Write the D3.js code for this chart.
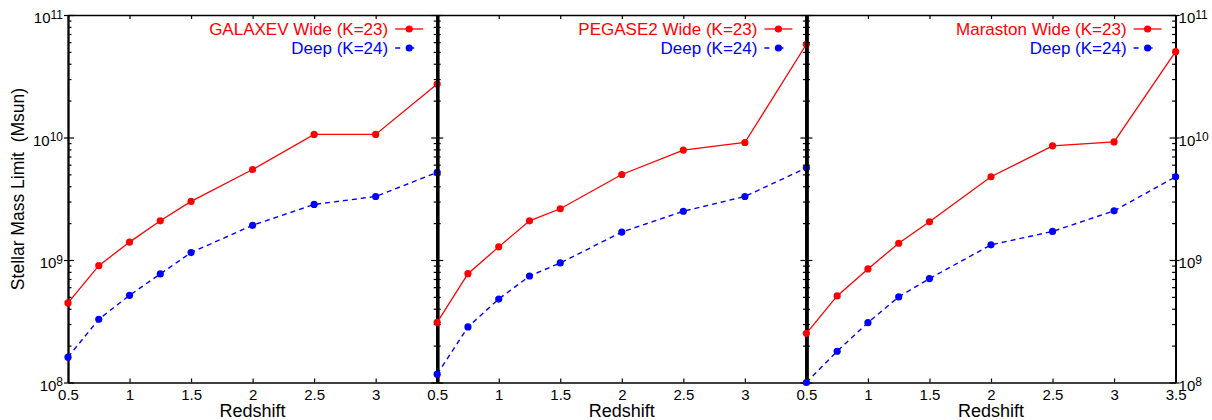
<!DOCTYPE html>
<html>
<head>
<meta charset="utf-8">
<script src="https://cdn.jsdelivr.net/npm/d3@7"></script>
<style>
  html, body { margin: 0; padding: 0; background: #fff; }
  svg { display: block; font-family: "Liberation Sans", Arial, sans-serif; }
</style>
</head>
<body>
<svg id="chart" width="1212" height="420"></svg>
<script>
// ---- data ----
const redshift = [0.5, 0.75, 1, 1.25, 1.5, 2, 2.5, 3, 3.5];
const modelNames = ["GALAXEV", "PEGASE2", "Maraston"];
const galaxevWide  = [4.46e8, 8.99e8, 1.40e9, 2.09e9, 3.01e9, 5.48e9, 1.06e10, 1.06e10, 2.73e10];
const galaxevDeep  = [1.61e8, 3.28e8, 5.15e8, 7.69e8, 1.15e9, 1.92e9, 2.84e9, 3.30e9, 5.19e9];
const pegaseWide   = [3.10e8, 7.73e8, 1.28e9, 2.09e9, 2.62e9, 4.99e9, 7.89e9, 9.10e9, 5.77e10];
const pegaseDeep   = [1.17e8, 2.84e8, 4.80e8, 7.40e8, 9.46e8, 1.69e9, 2.50e9, 3.30e9, 5.65e9];
const marastonWide = [2.52e8, 5.09e8, 8.45e8, 1.37e9, 2.05e9, 4.78e9, 8.55e9, 9.20e9, 5.02e10];
const marastonDeep = [1.00e8, 1.80e8, 3.08e8, 5.00e8, 7.05e8, 1.33e9, 1.71e9, 2.52e9, 4.78e9];
const xTicksInner = [0.5, 1, 1.5, 2, 2.5, 3];
const xTicksLast  = [0.5, 1, 1.5, 2, 2.5, 3, 3.5];
const yMajor = [1e8, 1e9, 1e10, 1e11];
const yExponents = ["8", "9", "10", "11"];
const wideLabel = "Wide (K=23)";
const deepLabel = "Deep (K=24)";
const xTitle = "Redshift";
const yTitle = "Stellar Mass Limit  (Msun)";

const wideSeries = [galaxevWide, pegaseWide, marastonWide];
const deepSeries = [galaxevDeep, pegaseDeep, marastonDeep];

// ---- layout ----
const svg = d3.select("#chart");
const plotTop = 15, plotBottom = 382.5;
const left0 = 68, panelW = 369.2;
const RED = "#ff0000", BLUE = "#0000ff";
const FONT = "Liberation Sans, Arial, sans-serif";

const y = d3.scaleLog().domain([1e8, 1e11]).range([plotBottom, plotTop]);
const yMinor = [];
for (let e = 8; e < 11; e++) for (let m = 2; m <= 9; m++) yMinor.push(m * Math.pow(10, e));

function styleAxis(g, w) {
  g.selectAll("path.domain").attr("stroke", "#000").attr("stroke-width", w);
  g.selectAll(".tick line").attr("stroke", "#000").attr("stroke-width", 1.2);
}

for (let p = 0; p < 3; p++) {
  const L = left0 + p * panelW, R = L + panelW;
  const x = d3.scaleLinear().domain([0.5, 3.5]).range([L, R]);
  const g = svg.append("g");
  const leftW = p === 0 ? 1.6 : 3;
  const rightW = p === 2 ? 1.6 : 3;

  // left axis (inward ticks)
  const gl = g.append("g").attr("transform", `translate(${L},0)`)
    .call(d3.axisLeft(y).tickValues(yMajor).tickSize(-6).tickSizeOuter(0).tickFormat(""));
  styleAxis(gl, leftW);
  const glm = g.append("g").attr("transform", `translate(${L},0)`)
    .call(d3.axisLeft(y).tickValues(yMinor).tickSize(-3.5).tickSizeOuter(0).tickFormat(""));
  styleAxis(glm, leftW);
  // right axis (inward ticks)
  const gr = g.append("g").attr("transform", `translate(${R},0)`)
    .call(d3.axisRight(y).tickValues(yMajor).tickSize(-6).tickSizeOuter(0).tickFormat(""));
  styleAxis(gr, rightW);
  const grm = g.append("g").attr("transform", `translate(${R},0)`)
    .call(d3.axisRight(y).tickValues(yMinor).tickSize(-3.5).tickSizeOuter(0).tickFormat(""));
  styleAxis(grm, rightW);

  // outer axes: short outward ticks too
  if (p === 0) {
    const o = g.append("g").attr("transform", `translate(${L},0)`)
      .call(d3.axisLeft(y).tickValues(yMajor).tickSize(4).tickSizeOuter(0).tickFormat(""));
    styleAxis(o, leftW);
  }
  if (p === 2) {
    const o = g.append("g").attr("transform", `translate(${R},0)`)
      .call(d3.axisRight(y).tickValues(yMajor).tickSize(4).tickSizeOuter(0).tickFormat(""));
    styleAxis(o, rightW);
  }

  const xt = p === 2 ? xTicksLast : xTicksInner;
  // bottom axis
  const gb = g.append("g").attr("transform", `translate(0,${plotBottom})`)
    .call(d3.axisBottom(x).tickValues(xTicksLast).tickSize(-4).tickSizeOuter(0).tickFormat(""));
  styleAxis(gb, 1.6);
  const gbl = g.append("g").attr("transform", `translate(0,${plotBottom})`)
    .call(d3.axisBottom(x).tickValues(xt).tickSize(0).tickPadding(7).tickFormat(d3.format("")));
  gbl.select("path.domain").remove();
  gbl.attr("font-family", FONT).attr("font-size", 15);
  gbl.selectAll("text").attr("font-size", 15).attr("fill", "#000");
  // top axis
  const gt = g.append("g").attr("transform", `translate(0,${plotTop})`)
    .call(d3.axisTop(x).tickValues(xTicksLast).tickSize(-4).tickSizeOuter(0).tickFormat(""));
  styleAxis(gt, 1.6);

  // x title
  g.append("text").attr("x", (L + R) / 2).attr("y", 417)
    .attr("text-anchor", "middle").attr("font-size", 18).attr("fill", "#000").text(xTitle);

  // y labels
  if (p === 0 || p === 2) {
    const ax = p === 0 ? d3.axisLeft(y) : d3.axisRight(y);
    const gy = g.append("g").attr("transform", `translate(${p === 0 ? L : R},0)`)
      .call(ax.tickValues(yMajor).tickSize(0).tickPadding(p === 0 ? 5 : 3).tickFormat(""));
    gy.select("path.domain").remove();
    gy.attr("font-family", FONT).attr("font-size", 15);
    gy.selectAll("text").each(function(d, i) {
      const t = d3.select(this).attr("dy", null).attr("y", 7.5)
        .attr("fill", "#000").attr("font-size", 15);
      t.append("tspan").text("10");
      t.append("tspan").attr("font-size", 12).attr("dy", -4.5).text(yExponents[yMajor.indexOf(d)]);
    });
  }

  // data lines
  const line = d3.line().x((d, i) => x(redshift[i])).y(d => y(d));
  g.append("path").datum(wideSeries[p]).attr("d", line)
    .attr("fill", "none").attr("stroke", RED).attr("stroke-width", 1.3);
  g.append("path").datum(deepSeries[p]).attr("d", line)
    .attr("fill", "none").attr("stroke", BLUE).attr("stroke-width", 1.4)
    .attr("stroke-dasharray", "5,4");
  g.selectAll(".wd").data(wideSeries[p]).enter().append("circle")
    .attr("cx", (d, i) => x(redshift[i])).attr("cy", d => y(d)).attr("r", 3.6).attr("fill", RED);
  g.selectAll(".dd").data(deepSeries[p]).enter().append("circle")
    .attr("cx", (d, i) => x(redshift[i])).attr("cy", d => y(d)).attr("r", 3.6).attr("fill", BLUE);

  // legend
  const tx = R - 49;
  g.append("text").attr("x", tx).attr("y", 35).attr("text-anchor", "end")
    .attr("font-size", 17).attr("fill", RED).text(modelNames[p] + " " + wideLabel);
  g.append("text").attr("x", tx).attr("y", 54).attr("text-anchor", "end")
    .attr("font-size", 17).attr("fill", BLUE).text(deepLabel);
  g.append("line").attr("x1", R - 42).attr("x2", R - 14).attr("y1", 29).attr("y2", 29)
    .attr("stroke", RED).attr("stroke-width", 1.3);
  g.append("circle").attr("cx", R - 28).attr("cy", 29).attr("r", 3.6).attr("fill", RED);
  g.append("line").attr("x1", R - 42).attr("x2", R - 14).attr("y1", 48).attr("y2", 48)
    .attr("stroke", BLUE).attr("stroke-width", 1.4).attr("stroke-dasharray", "5,9");
  g.append("circle").attr("cx", R - 28).attr("cy", 48).attr("r", 3.6).attr("fill", BLUE);
}

// y title
svg.append("text").attr("transform", `translate(24,189) rotate(-90)`)
  .attr("text-anchor", "middle").attr("font-size", 17.5).attr("fill", "#000")
  .style("white-space", "pre").text(yTitle);
</script>
</body>
</html>
